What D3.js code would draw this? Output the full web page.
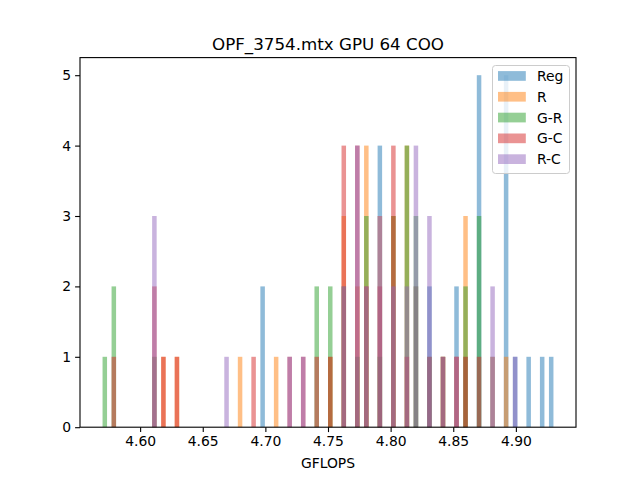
<!DOCTYPE html>
<html>
<head>
<meta charset="utf-8">
<script src="https://cdnjs.cloudflare.com/ajax/libs/d3/7.8.5/d3.min.js"></script>
<style>
  body { margin: 0; background: #fff; }
  svg { font-family: "DejaVu Sans", sans-serif; }
</style>
</head>
<body>
<div class="svg-container"></div>
<script>
// GFLOPS samples per variant (one value per run)
var reg = [4.698, 4.698, 4.791, 4.791, 4.791, 4.791, 4.820, 4.820, 4.831, 4.831,
           4.853, 4.853, 4.860, 4.871, 4.871, 4.871, 4.871, 4.871, 4.881,
           4.892, 4.892, 4.892, 4.892, 4.892, 4.899, 4.910, 4.921, 4.930];
var r = [4.619, 4.629, 4.680, 4.709, 4.752, 4.763, 4.763, 4.763, 4.773, 4.773,
         4.781, 4.781, 4.781, 4.781, 4.791, 4.791, 4.791, 4.802, 4.802, 4.802,
         4.813, 4.813, 4.813, 4.813, 4.820, 4.820, 4.842, 4.853, 4.860, 4.860,
         4.860, 4.881, 4.892];
var gr = [4.570, 4.579, 4.579, 4.611, 4.741, 4.741, 4.752, 4.752, 4.763, 4.763,
          4.773, 4.781, 4.781, 4.781, 4.791, 4.802, 4.802, 4.802, 4.813, 4.813,
          4.813, 4.813, 4.820, 4.820, 4.820, 4.831, 4.842, 4.860, 4.860,
          4.871, 4.871, 4.871];
var gc = [4.579, 4.611, 4.611, 4.619, 4.629, 4.691, 4.719, 4.730, 4.741, 4.752,
          4.763, 4.763, 4.763, 4.763, 4.773, 4.773, 4.773, 4.773, 4.781, 4.781,
          4.791, 4.791, 4.802, 4.802, 4.802, 4.802, 4.813, 4.831, 4.842, 4.853,
          4.860, 4.871];
var rc = [4.611, 4.611, 4.611, 4.669, 4.719, 4.730, 4.763, 4.763, 4.773, 4.773,
          4.773, 4.773, 4.781, 4.781, 4.791, 4.791, 4.791, 4.802, 4.802, 4.813,
          4.813, 4.820, 4.820, 4.820, 4.820, 4.831, 4.831, 4.831, 4.842, 4.853,
          4.881, 4.881, 4.899];

var seriesNames = ["Reg", "R", "G-R", "G-C", "R-C"];
var seriesData = [reg, r, gr, gc, rc];
var colors = ["#1f77b4", "#ff7f0e", "#2ca02c", "#d62728", "#9467bd"];
var xTicks = [4.60, 4.65, 4.70, 4.75, 4.80, 4.85, 4.90];
var yTicks = [0, 1, 2, 3, 4, 5];
var nBins = 100;

var width = 640, height = 480;
var margin = { top: 57.6, right: 64, bottom: 52.8, left: 80 };

var svg = d3.select(".svg-container").append("svg")
  .attr("width", width)
  .attr("height", height);

// shared bins over the full data range, like plt.hist(bins=100)
var all = d3.merge(seriesData);
var lo = d3.min(all), hi = d3.max(all);
var binW = (hi - lo) / nBins;
var thresholds = d3.range(1, nBins).map(function(i) { return lo + i * binW; });
var binner = d3.bin().domain([lo, hi]).thresholds(thresholds);

var pad = (hi - lo) * 0.05;
var x = d3.scaleLinear()
  .domain([lo - pad, hi + pad])
  .range([margin.left, width - margin.right]);
var y = d3.scaleLinear()
  .domain([0, 5.25])
  .range([height - margin.bottom, margin.top]);

seriesData.forEach(function(vals, i) {
  var bins = binner(vals).filter(function(b) { return b.length > 0; });
  svg.append("g")
    .selectAll("rect")
    .data(bins)
    .enter().append("rect")
      .attr("x", function(b) { return x(b.x0); })
      .attr("width", function(b) { return x(b.x1) - x(b.x0); })
      .attr("y", function(b) { return y(b.length); })
      .attr("height", function(b) { return y(0) - y(b.length); })
      .attr("fill", colors[i])
      .attr("fill-opacity", 0.5);
});

// axes
var xAxis = d3.axisBottom(x).tickValues(xTicks).tickFormat(d3.format(".2f"))
  .tickSizeInner(4.9).tickSizeOuter(0).tickPadding(4);
var yAxis = d3.axisLeft(y).tickValues(yTicks).tickFormat(d3.format("d"))
  .tickSizeInner(4.9).tickSizeOuter(0).tickPadding(4);

var gx = svg.append("g")
  .attr("transform", "translate(0," + (height - margin.bottom) + ")")
  .call(xAxis);
var gy = svg.append("g")
  .attr("transform", "translate(" + margin.left + ",0)")
  .call(yAxis);

[gx, gy].forEach(function(g) {
  g.select(".domain").remove();
  g.selectAll(".tick line").attr("stroke", "#000").attr("stroke-width", 1.1);
  g.selectAll(".tick text")
    .attr("fill", "#000")
    .style("font-size", "13.9px")
    .style("font-family", "DejaVu Sans");
});

// spines
svg.append("rect")
  .attr("x", margin.left)
  .attr("y", margin.top)
  .attr("width", width - margin.left - margin.right)
  .attr("height", height - margin.top - margin.bottom)
  .attr("fill", "none")
  .attr("stroke", "#000")
  .attr("stroke-width", 1.1);

svg.append("text")
  .attr("x", (margin.left + width - margin.right) / 2)
  .attr("y", 49.5)
  .attr("text-anchor", "middle")
  .style("font-size", "16.7px")
  .text("OPF_3754.mtx GPU 64 COO");

svg.append("text")
  .attr("x", (margin.left + width - margin.right) / 2)
  .attr("y", 467.5)
  .attr("text-anchor", "middle")
  .style("font-size", "13.9px")
  .text("GFLOPS");

// legend
var legend = svg.append("g").attr("transform", "translate(492.5,65.5)");
legend.append("rect")
  .attr("width", 77)
  .attr("height", 108)
  .attr("rx", 3)
  .attr("fill", "#fff")
  .attr("fill-opacity", 0.8)
  .attr("stroke", "#cccccc")
  .attr("stroke-width", 1);

var items = legend.selectAll("g.item")
  .data(seriesNames)
  .enter().append("g")
    .attr("class", "item")
    .attr("transform", function(d, i) { return "translate(0," + (10.5 + i * 20.8) + ")"; });
items.append("rect")
  .attr("x", 5.5)
  .attr("y", -4.9)
  .attr("width", 27.8)
  .attr("height", 9.7)
  .attr("fill", function(d, i) { return colors[i]; })
  .attr("fill-opacity", 0.5);
items.append("text")
  .attr("x", 44.5)
  .attr("y", 5)
  .style("font-size", "13.9px")
  .text(function(d) { return d; });
</script>
</body>
</html>
